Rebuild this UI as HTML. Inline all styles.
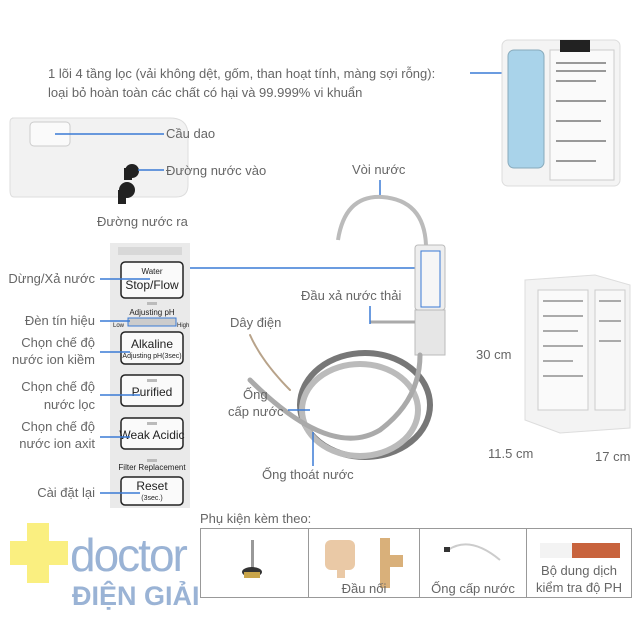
<!DOCTYPE html>
<html><head><meta charset="utf-8"><style>
body{margin:0;background:#fff;}
svg{display:block}
text{font-family:"Liberation Sans",sans-serif;fill:#666;}
</style></head><body>
<svg width="644" height="644" viewBox="0 0 644 644" xmlns="http://www.w3.org/2000/svg">
<rect width="644" height="644" fill="#fff"/>
<!-- top text -->
<text x="48" y="78" font-size="13">1 lõi 4 tầng lọc (vải không dệt, gốm, than hoạt tính, màng sợi rỗng):</text>
<text x="48" y="97" font-size="13">loại bỏ hoàn toàn các chất có hại và 99.999% vi khuẩn</text>
<line x1="470" y1="73" x2="512" y2="73" stroke="#3a7bd5" stroke-width="1.5"/>
<!-- filter cartridge -->
<rect x="502" y="40" width="118" height="146" rx="6" fill="#f4f4f4" stroke="#ddd"/>
<rect x="508" y="50" width="36" height="118" rx="6" fill="#a9d3ea" stroke="#8ab"/>
<rect x="550" y="50" width="64" height="130" fill="#fafafa" stroke="#ccc"/>
<rect x="560" y="40" width="30" height="12" fill="#222"/>
<g fill="#999"><rect x="556" y="62" width="50" height="2"/><rect x="556" y="70" width="50" height="2"/><rect x="556" y="80" width="40" height="2"/><rect x="556" y="100" width="50" height="2"/><rect x="556" y="120" width="45" height="2"/><rect x="556" y="140" width="50" height="2"/><rect x="556" y="160" width="40" height="2"/></g>
<!-- control unit -->
<path d="M12 118 H170 Q188 118 188 135 V185 Q188 197 176 197 H14 Q10 197 10 190 V122 Q10 118 14 118Z" fill="#f2f2f2" stroke="#ddd"/>
<rect x="30" y="122" width="40" height="24" rx="4" fill="#fafafa" stroke="#ccc"/>
<circle cx="132" cy="171" r="7" fill="#222"/><rect x="124" y="168" width="8" height="12" fill="#222"/>
<circle cx="127" cy="190" r="8" fill="#222"/><rect x="118" y="190" width="8" height="14" fill="#222"/>
<line x1="55" y1="134" x2="164" y2="134" stroke="#3a7bd5" stroke-width="1.5"/>
<line x1="138" y1="170" x2="164" y2="170" stroke="#3a7bd5" stroke-width="1.5"/>
<text x="166" y="138" font-size="13">Cầu dao</text>
<text x="166" y="175" font-size="13">Đường nước vào</text>
<text x="97" y="226" font-size="13">Đường nước ra</text>
<!-- control panel -->
<rect x="110" y="243" width="80" height="265" fill="#eaeaea"/>
<rect x="118" y="247" width="64" height="8" fill="#d8d8d8"/>
<g fill="#fafafa" stroke="#222" stroke-width="1.5">
<rect x="121" y="262" width="62" height="36" rx="4"/>
<rect x="121" y="332" width="62" height="32" rx="4"/>
<rect x="121" y="375" width="62" height="31" rx="4"/>
<rect x="121" y="418" width="62" height="31" rx="4"/>
<rect x="121" y="477" width="62" height="28" rx="4"/>
</g>
<g fill="#bbb"><rect x="147" y="302" width="10" height="3"/><rect x="147" y="379" width="10" height="3"/><rect x="147" y="422" width="10" height="3"/><rect x="147" y="459" width="10" height="3"/></g>
<rect x="128" y="318" width="48" height="8" fill="#ccc" stroke="#3a7bd5"/>
<g text-anchor="middle" style="font-family:'Liberation Sans',sans-serif">
<text x="152" y="274" font-size="8" style="fill:#222">Water</text>
<text x="152" y="289" font-size="12" style="fill:#222">Stop/Flow</text>
<text x="152" y="315" font-size="8" style="fill:#222">Adjusting pH</text>
<text x="152" y="348" font-size="12" style="fill:#222">Alkaline</text>
<text x="152" y="358" font-size="7" style="fill:#222">Adjusting pH(3sec)</text>
<text x="152" y="396" font-size="12" style="fill:#222">Purified</text>
<text x="152" y="439" font-size="12" style="fill:#222">Weak Acidic</text>
<text x="152" y="470" font-size="8" style="fill:#222">Filter Replacement</text>
<text x="152" y="490" font-size="12" style="fill:#222">Reset</text>
<text x="152" y="500" font-size="7" style="fill:#222">(3sec.)</text>
</g>
<text x="113" y="327" font-size="6" style="fill:#222">Low</text>
<text x="177" y="327" font-size="6" style="fill:#222">High</text>
<g stroke="#3a7bd5" stroke-width="1.5">
<line x1="100" y1="279" x2="150" y2="279"/>
<line x1="100" y1="321" x2="130" y2="321"/>
<line x1="100" y1="352" x2="130" y2="352"/>
<line x1="100" y1="395" x2="140" y2="395"/>
<line x1="100" y1="437" x2="130" y2="437"/>
<line x1="100" y1="493" x2="140" y2="493"/>
<line x1="190" y1="268" x2="420" y2="268"/>
</g>
<g font-size="13" text-anchor="end">
<text x="95" y="283">Dừng/Xả nước</text>
<text x="95" y="325">Đèn tín hiệu</text>
<text x="95" y="347">Chọn chế độ</text>
<text x="95" y="364">nước ion kiềm</text>
<text x="95" y="391">Chọn chế độ</text>
<text x="95" y="409">nước lọc</text>
<text x="95" y="431">Chọn chế độ</text>
<text x="95" y="448">nước ion axit</text>
<text x="95" y="497">Cài đặt lại</text>
</g>
<!-- faucet -->
<text x="352" y="174" font-size="13">Vòi nước</text>
<line x1="380" y1="180" x2="380" y2="197" stroke="#3a7bd5" stroke-width="1.5"/>
<path d="M338 240 Q345 195 382 197 Q424 200 426 245" fill="none" stroke="#bbb" stroke-width="4"/>
<rect x="415" y="245" width="30" height="65" rx="3" fill="#eee" stroke="#bbb"/>
<rect x="421" y="251" width="19" height="56" fill="#f6f6f6" stroke="#3a7bd5"/>
<rect x="415" y="310" width="30" height="45" fill="#e6e6e6" stroke="#bbb"/>
<line x1="370" y1="322" x2="415" y2="322" stroke="#aaa" stroke-width="3"/>
<text x="301" y="300" font-size="13">Đầu xả nước thải</text>
<line x1="370" y1="306" x2="370" y2="324" stroke="#3a7bd5" stroke-width="1.5"/>
<!-- hose -->
<g fill="none" stroke-linecap="round">
<ellipse cx="365" cy="405" rx="65" ry="52" stroke="#777" stroke-width="6"/>
<ellipse cx="360" cy="410" rx="58" ry="46" stroke="#bbb" stroke-width="6"/>
<path d="M420 355 Q420 400 380 430 Q330 460 250 380" stroke="#aaa" stroke-width="5"/>
<path d="M250 335 Q262 362 290 390" stroke="#b8a38a" stroke-width="2"/>
</g>
<text x="230" y="327" font-size="13">Dây điện</text>
<text x="243" y="399" font-size="13">Ống</text>
<text x="228" y="416" font-size="13">cấp nước</text>
<line x1="288" y1="410" x2="310" y2="410" stroke="#3a7bd5" stroke-width="1.5"/>
<text x="262" y="479" font-size="13">Ống thoát nước</text>
<line x1="313" y1="432" x2="313" y2="466" stroke="#3a7bd5" stroke-width="1.5"/>
<!-- box -->
<path d="M525 280 L595 275 L630 285 L630 428 L560 433 L525 420Z" fill="#f3f3f3" stroke="#ddd"/>
<rect x="538" y="290" width="50" height="120" fill="#fafafa" stroke="#ccc"/>
<rect x="595" y="290" width="30" height="120" fill="#f8f8f8" stroke="#ccc"/>
<g fill="#aaa"><rect x="543" y="300" width="40" height="2"/><rect x="543" y="315" width="40" height="2"/><rect x="543" y="330" width="35" height="2"/><rect x="543" y="345" width="40" height="2"/><rect x="543" y="360" width="30" height="2"/><rect x="543" y="375" width="40" height="2"/><rect x="599" y="300" width="22" height="2"/><rect x="599" y="320" width="22" height="2"/><rect x="599" y="340" width="22" height="2"/></g>
<text x="476" y="359" font-size="13">30 cm</text>
<text x="488" y="458" font-size="13">11.5 cm</text>
<text x="595" y="461" font-size="13">17 cm</text>
<!-- logo -->
<g fill="#faef80"><rect x="27" y="523" width="22" height="60"/><rect x="10" y="541" width="58" height="24"/></g>
<text x="70" y="571" font-size="46" style="fill:#9ab3d5;letter-spacing:-2px">doctor</text>
<text x="72" y="605" font-size="27" font-weight="bold" style="fill:#9ab3d5">ĐIỆN GIẢI</text>
<!-- accessories -->
<text x="200" y="523" font-size="13">Phụ kiện kèm theo:</text>
<rect x="200.5" y="528.5" width="431" height="69" fill="none" stroke="#999"/>
<g stroke="#999"><line x1="308.5" y1="528" x2="308.5" y2="598"/><line x1="419.5" y1="528" x2="419.5" y2="598"/><line x1="526.5" y1="528" x2="526.5" y2="598"/></g>
<rect x="251" y="540" width="3" height="28" fill="#999"/><ellipse cx="252" cy="572" rx="10" ry="5" fill="#333"/><rect x="244" y="572" width="16" height="6" fill="#c9a54a"/>
<rect x="325" y="540" width="30" height="30" rx="6" fill="#eac9a6"/><rect x="337" y="560" width="8" height="18" fill="#eac9a6"/>
<rect x="380" y="538" width="10" height="50" fill="#d9b07a"/><rect x="385" y="555" width="18" height="12" fill="#d9b07a"/>
<path d="M448 550 Q470 535 500 560" fill="none" stroke="#ccc" stroke-width="2"/><rect x="444" y="547" width="6" height="5" fill="#333"/>
<rect x="540" y="543" width="80" height="15" fill="#f3f3f3"/><rect x="572" y="543" width="48" height="15" fill="#c8633d"/>
<g font-size="13" text-anchor="middle">
<text x="364" y="593">Đầu nối</text>
<text x="473" y="593">Ống cấp nước</text>
<text x="579" y="575">Bộ dung dịch</text>
<text x="579" y="592">kiểm tra độ PH</text>
</g>
</svg>
</body></html>
